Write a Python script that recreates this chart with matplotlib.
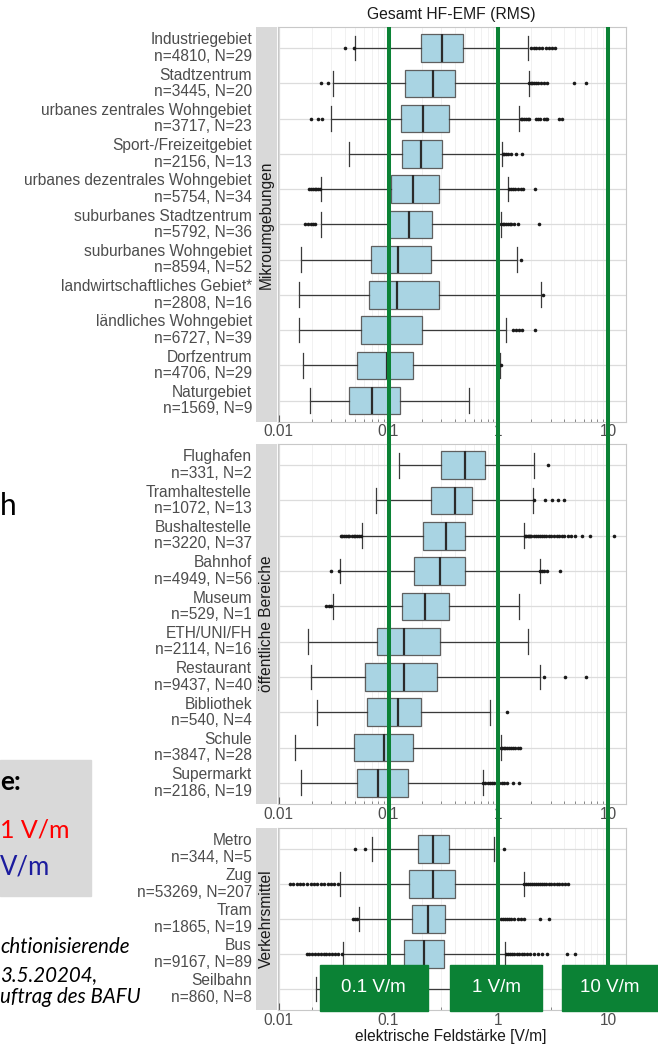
import matplotlib
matplotlib.use('Agg')
import matplotlib.pyplot as plt
from matplotlib.patches import Rectangle
from matplotlib.ticker import LogLocator, NullFormatter

plt.rcParams['font.family'] = ['Liberation Sans', 'DejaVu Sans']

W, H = 658, 1045
GREEN = '#0b8235'

# ---------------- data (V/m) ----------------
mikro_names = ["Industriegebiet", "Stadtzentrum", "urbanes zentrales Wohngebiet",
               "Sport-/Freizeitgebiet", "urbanes dezentrales Wohngebiet",
               "suburbanes Stadtzentrum", "suburbanes Wohngebiet",
               "landwirtschaftliches Gebiet*", "ländliches Wohngebiet",
               "Dorfzentrum", "Naturgebiet"]
mikro_n = [4810, 3445, 3717, 2156, 5754, 5792, 8594, 2808, 6727, 4706, 1569]
mikro_N = [29, 20, 23, 13, 34, 36, 52, 16, 39, 29, 9]
mikro_lo = [0.050, 0.031, 0.030, 0.044, 0.024, 0.024, 0.016, 0.0154, 0.0154, 0.0167, 0.0192]
mikro_q1 = [0.197, 0.142, 0.129, 0.134, 0.105, 0.100, 0.069, 0.0665, 0.0567, 0.052, 0.0434]
mikro_med = [0.31, 0.255, 0.206, 0.196, 0.167, 0.154, 0.123, 0.119, 0.103, 0.096, 0.071]
mikro_q3 = [0.48, 0.40, 0.353, 0.309, 0.286, 0.249, 0.246, 0.286, 0.202, 0.167, 0.128]
mikro_hi = [1.86, 1.89, 1.53, 1.09, 1.24, 1.05, 1.49, 2.43, 1.18, 1.03, 0.537]
mikro_out = [
    [0.040, 0.048, 2.0, 2.1, 2.2, 2.35, 2.5, 2.7, 2.9, 3.1, 3.3],
    [0.024, 0.028, 1.92, 1.97, 2.05, 2.1, 2.2, 2.3, 2.45, 2.6, 2.8, 4.9, 6.3],
    [0.0196, 0.0229, 0.0245, 1.6, 1.65, 1.7, 1.78, 1.85, 1.9, 2.2, 2.3, 2.4,
     2.6, 2.7, 2.8, 3.6, 3.8],
    [1.1, 1.13, 1.17, 1.22, 1.3, 1.45, 1.65],
    [0.019, 0.0198, 0.0205, 0.0212, 0.022, 0.0228, 0.0235, 1.25, 1.3, 1.35,
     1.42, 1.5, 1.6, 1.67, 2.17],
    [0.0173, 0.0185, 0.0195, 0.0205, 0.0213, 1.06, 1.1, 1.14, 1.18, 1.22,
     1.27, 1.32, 1.4, 1.5, 2.35],
    [1.62],
    [2.55],
    [1.35, 1.45, 1.55, 1.65, 2.17],
    [1.05],
    [],
]

oeff_names = ["Flughafen", "Tramhaltestelle", "Bushaltestelle", "Bahnhof", "Museum",
              "ETH/UNI/FH", "Restaurant", "Bibliothek", "Schule", "Supermarkt"]
oeff_n = [331, 1072, 3220, 4949, 529, 2114, 9437, 540, 3847, 2186]
oeff_N = [2, 13, 37, 56, 1, 16, 40, 4, 28, 19]
oeff_lo = [0.125, 0.0765, 0.0575, 0.0365, 0.0313, 0.0186, 0.0196, 0.0225, 0.0140, 0.0161]
oeff_q1 = [0.303, 0.246, 0.208, 0.171, 0.132, 0.078, 0.0616, 0.0635, 0.0486, 0.0514]
oeff_med = [0.50, 0.40, 0.334, 0.297, 0.213, 0.139, 0.139, 0.123, 0.0912, 0.0809]
oeff_q3 = [0.75, 0.576, 0.494, 0.494, 0.353, 0.295, 0.279, 0.199, 0.167, 0.152]
oeff_hi = [2.11, 2.08, 1.73, 2.38, 1.56, 1.86, 2.40, 0.84, 1.05, 0.726]
oeff_out = [
    [2.83],
    [2.1, 2.64, 3.1, 3.5, 4.0],
    [0.0368, 0.038, 0.0395, 0.041, 0.0425, 0.044, 0.046, 0.048, 0.050, 0.052,
     0.054, 0.0567, 1.75, 1.8, 1.85, 1.9, 1.95, 2.0, 2.1, 2.2, 2.3, 2.4, 2.5,
     2.6, 2.75, 2.9, 3.05, 3.2, 3.4, 3.6, 3.8, 4.0, 4.3, 4.6, 5.0, 5.8, 6.9, 11.3],
    [0.0302, 0.0352, 2.4, 2.5, 2.6, 2.8, 3.69],
    [0.0272, 0.0285, 0.0298],
    [],
    [2.60, 4.1, 6.3],
    [1.21],
    [1.05, 1.08, 1.12, 1.16, 1.2, 1.25, 1.3, 1.35, 1.42, 1.5, 1.57],
    [0.73, 0.76, 0.8, 0.84, 0.88, 0.92, 0.97, 1.02, 1.08, 1.14, 1.2, 1.35, 1.53],
]

verk_names = ["Metro", "Zug", "Tram", "Bus", "Seilbahn"]
verk_n = [344, 53269, 1865, 9167, 860]
verk_N = [5, 207, 19, 89, 8]
verk_lo = [0.070, 0.036, 0.054, 0.0387, 0.0218]
verk_q1 = [0.186, 0.154, 0.164, 0.139, 0.085]
verk_med = [0.255, 0.255, 0.229, 0.21, 0.12]
verk_q3 = [0.353, 0.40, 0.33, 0.32, 0.175]
verk_hi = [0.914, 1.70, 0.996, 1.16, 0.45]
verk_out = [
    [0.050, 0.0616, 1.14],
    [0.0126, 0.0135, 0.0145, 0.0155, 0.0167, 0.018, 0.0195, 0.021, 0.0225,
     0.024, 0.026, 0.028, 0.030, 0.032, 0.0348, 1.73, 1.8, 1.87, 1.95, 2.03,
     2.12, 2.2, 2.3, 2.4, 2.5, 2.62, 2.75, 2.9, 3.05, 3.2, 3.4, 3.6, 3.8, 4.05, 4.3],
    [0.047, 0.050, 0.052, 1.05, 1.1, 1.15, 1.2, 1.26, 1.32, 1.4, 1.5, 1.6,
     1.72, 2.4, 2.9],
    [0.0179, 0.019, 0.0202, 0.0215, 0.0228, 0.0242, 0.0257, 0.0272, 0.0289,
     0.0307, 0.0326, 0.0346, 0.0373, 1.17, 1.22, 1.27, 1.33, 1.4, 1.47, 1.55,
     1.63, 1.72, 1.82, 1.95, 2.1, 2.3, 2.5, 2.8, 4.2, 5.0],
    [],
]

strip_titles = ["Mikroumgebungen", "öffentliche Bereiche", "Verkehrsmittel"]
ref_values = [0.1, 1, 10]
ref_labels = ["0.1 V/m", "1 V/m", "10 V/m"]
xticks = [0.01, 0.1, 1, 10]
xticklabels = ["0.01", "0.1", "1", "10"]
XLIM = (0.00973, 14.6)


def fx(px):
    return px / W


def fy(py):
    return 1 - py / H


def panel(top, bottom, names, n, N, lo, q1, med, q3, hi, out, strip):
    ax = fig.add_axes([fx(277.5), fy(bottom), fx(626) - fx(277.5), (bottom - top) / H])
    stats = [dict(whislo=lo[i], q1=q1[i], med=med[i], q3=q3[i], whishi=hi[i],
                  fliers=out[i]) for i in range(len(names))]
    ax.bxp(stats, positions=range(len(names)), widths=0.78, orientation='horizontal',
           patch_artist=True, manage_ticks=False, capwidths=0.7,
           boxprops=dict(facecolor='#a9d4e3', edgecolor='#5f5f5f', lw=0.9),
           medianprops=dict(color='#2b2b2b', lw=1.6),
           whiskerprops=dict(color='#3a3a3a', lw=0.9),
           capprops=dict(color='#3a3a3a', lw=0.9),
           flierprops=dict(marker='o', markersize=2.6, markerfacecolor='#1a1a1a',
                           markeredgewidth=0))
    ax.set_xscale('log')
    ax.set_xlim(*XLIM)
    ax.set_ylim(len(names) - 0.4, -0.6)
    ax.set_xticks(xticks, xticklabels)
    ax.xaxis.set_minor_locator(LogLocator(base=10, subs=range(2, 10)))
    ax.xaxis.set_minor_formatter(NullFormatter())
    ax.set_yticks(range(len(names)),
                  [f"{nm}\nn={a}, N={b}" for nm, a, b in zip(names, n, N)])
    for lbl in ax.get_yticklabels():
        lbl.set_linespacing(1.12)
        lbl.set_verticalalignment('center')
    ax.tick_params(axis='y', length=0, pad=18.4, labelsize=11.2, labelcolor='#4d4d4d')
    ax.tick_params(axis='x', which='major', direction='in', length=5, color='#555555',
                   labelsize=11.2, labelcolor='#4d4d4d', pad=2)
    ax.tick_params(axis='x', which='minor', direction='in', length=2.5, color='#777777')
    ax.grid(True, which='major', color='#dcdcdc', lw=0.9)
    ax.grid(True, which='minor', axis='x', color='#ececec', lw=0.5)
    ax.set_axisbelow(True)
    for s in ax.spines.values():
        s.set_color('#c8c8c8')
        s.set_linewidth(0.8)

    sax = fig.add_axes([fx(256), fy(bottom), fx(276.5) - fx(256), (bottom - top) / H])
    sax.set_facecolor('#d9d9d9')
    sax.set_xticks([])
    sax.set_yticks([])
    for s in sax.spines.values():
        s.set_visible(False)
    sax.text(0.5, 0.5, strip, rotation=90, ha='center', va='center',
             transform=sax.transAxes, color='#1a1a1a', fontsize=11.2)
    return ax


fig = plt.figure(figsize=(W / 100, H / 100), dpi=100)

panel(27, 421.7, mikro_names, mikro_n, mikro_N, mikro_lo, mikro_q1, mikro_med,
      mikro_q3, mikro_hi, mikro_out, strip_titles[0])
panel(444, 804, oeff_names, oeff_n, oeff_N, oeff_lo, oeff_q1, oeff_med,
      oeff_q3, oeff_hi, oeff_out, strip_titles[1])
panel(828, 1010, verk_names, verk_n, verk_N, verk_lo, verk_q1, verk_med,
      verk_q3, verk_hi, verk_out, strip_titles[2])

fig.text(fx(451), fy(14.5), "Gesamt HF-EMF (RMS)", ha='center', va='center',
         fontsize=11.3, color='#1a1a1a')
fig.text(fx(451), fy(1037), "elektrische Feldstärke [V/m]", ha='center', va='center',
         fontsize=11.2, color='#1a1a1a')

# green reference lines across all panels
gax = fig.add_axes([fx(277.5), fy(990), fx(626) - fx(277.5), (990 - 27) / H], zorder=5)
gax.set_xscale('log')
gax.set_xlim(*XLIM)
gax.axis('off')
gax.patch.set_visible(False)
for v in ref_values:
    gax.axvline(v, color=GREEN, lw=2.9, solid_capstyle='butt')

# green label boxes
for (x0, x1), lab in zip([(320, 427.7), (450, 542), (561.7, 660)], ref_labels):
    fig.patches.append(Rectangle((fx(x0), fy(1011)), fx(x1) - fx(x0), 46 / H,
                                 transform=fig.transFigure, color=GREEN, zorder=6))
    fig.text(fx((x0 + min(x1, 658)) / 2), fy(988), lab, ha='center', va='center',
             color='white', fontsize=13.5, zorder=7)

# leftover slide content on the left edge
slide = ['Lato', 'DejaVu Sans']
fig.text(0, fy(515), "h", ha='left', va='baseline', fontsize=21.5,
         family=slide, color='black')
fig.patches.append(Rectangle((0, fy(896)), fx(91), 136 / H, transform=fig.transFigure,
                             color='#d9d9d9', zorder=1))
fig.text(0, fy(790), "e:", ha='left', va='baseline', fontsize=19,
         fontweight='bold', family=slide, color='black')
fig.text(0, fy(838), "1 V/m", ha='left', va='baseline', fontsize=18,
         family=slide, color='#ff0000')
fig.text(0, fy(875), "V/m", ha='left', va='baseline', fontsize=18.5,
         family=slide, color='#1c1c9e')
for txt, yb in [("chtionisierende", 953), ("3.5.20204,", 981.5),
                ("uftrag des BAFU", 1003)]:
    fig.text(0, fy(yb), txt, ha='left', va='baseline', fontsize=14.8,
             style='italic', family=slide, color='black')

fig.savefig('out.png', dpi=100)
